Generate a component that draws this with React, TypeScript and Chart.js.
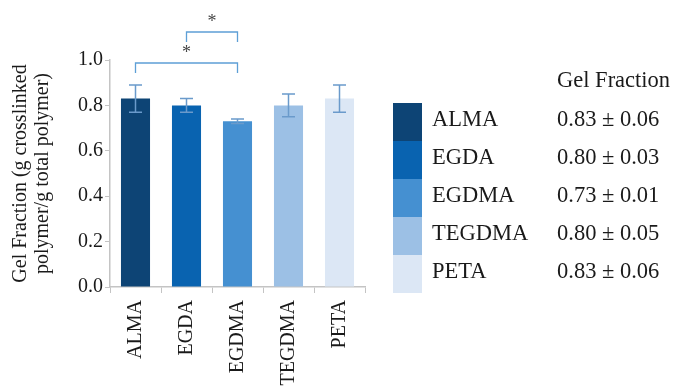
import React, { useEffect, useRef } from "react";
import { Chart, registerables } from "chart.js";

Chart.register(...registerables);

const categories = ["ALMA", "EGDA", "EGDMA", "TEGDMA", "PETA"];
const gelFraction = [0.83, 0.8, 0.73, 0.8, 0.83];
const gelError = [0.06, 0.03, 0.01, 0.05, 0.06];
const barColors = ["#0d4475", "#0963b0", "#4590d1", "#9cc0e5", "#dce7f5"];
const yAxisTitle = ["Gel Fraction (g crosslinked", "polymer/g total polymer)"];
const tableHeader = "Gel Fraction";
// significance pairs: [from index, to index]
const sigFrom = [0, 1];
const sigTo = [2, 2];
const sigLabel = ["*", "*"];

const FONT = "'Liberation Serif', 'Times New Roman', serif";
const TEXT = "#1a1a1a";
const AXIS = "#c4c4c4";

const errorBarPlugin = {
  id: "errorBars",
  afterDatasetsDraw(chart: any) {
    const meta = chart.getDatasetMeta(0);
    const y = chart.scales.y;
    const ctx = chart.ctx;
    ctx.save();
    ctx.strokeStyle = "#6a9acb";
    ctx.lineWidth = 1.5;
    meta.data.forEach((bar: any, i: number) => {
      const x = bar.x;
      const top = y.getPixelForValue(gelFraction[i] + gelError[i]);
      const bot = y.getPixelForValue(gelFraction[i] - gelError[i]);
      ctx.beginPath();
      ctx.moveTo(x, top);
      ctx.lineTo(x, bot);
      ctx.moveTo(x - 6.5, top);
      ctx.lineTo(x + 6.5, top);
      ctx.moveTo(x - 6.5, bot);
      ctx.lineTo(x + 6.5, bot);
      ctx.stroke();
    });
    ctx.restore();
  },
};

const bracketPlugin = {
  id: "brackets",
  afterDraw(chart: any) {
    const meta = chart.getDatasetMeta(0);
    const y = chart.scales.y;
    const ctx = chart.ctx;
    const base = y.getPixelForValue(1.0);
    ctx.save();
    sigFrom.forEach((f, k) => {
      const x1 = meta.data[f].x;
      const x2 = meta.data[sigTo[k]].x;
      const lineY = base + 3 - k * 31;
      ctx.strokeStyle = "#5d9fd6";
      ctx.lineWidth = 1.3;
      ctx.beginPath();
      ctx.moveTo(x1, lineY + 10);
      ctx.lineTo(x1, lineY);
      ctx.lineTo(x2, lineY);
      ctx.lineTo(x2, lineY + 10);
      ctx.stroke();
      ctx.fillStyle = "#444";
      ctx.font = `18px ${FONT}`;
      ctx.textAlign = "center";
      ctx.textBaseline = "middle";
      ctx.fillText(sigLabel[k], (x1 + x2) / 2, lineY - 10);
    });
    ctx.restore();
  },
};

const tablePlugin = {
  id: "valueTable",
  afterDraw(chart: any) {
    const ctx = chart.ctx;
    ctx.save();
    ctx.font = `22.5px ${FONT}`;
    ctx.fillStyle = TEXT;
    ctx.textAlign = "left";
    ctx.textBaseline = "middle";
    ctx.fillText(tableHeader, 557, 81);
    categories.forEach((c, i) => {
      const top = 103 + i * 38;
      ctx.fillStyle = barColors[i];
      ctx.fillRect(393, top, 29, 38);
      ctx.fillStyle = TEXT;
      ctx.fillText(c, 432, top + 17);
      ctx.fillText(
        `${gelFraction[i].toFixed(2)} \u00b1 ${gelError[i].toFixed(2)}`,
        557,
        top + 17
      );
    });
    ctx.restore();
  },
};

export default function App() {
  const ref = useRef<HTMLCanvasElement | null>(null);
  useEffect(() => {
    if (!ref.current) return;
    const chart = new Chart(ref.current, {
      type: "bar",
      data: {
        labels: categories,
        datasets: [
          {
            data: gelFraction,
            backgroundColor: barColors,
            borderWidth: 0,
            barPercentage: 0.57,
            categoryPercentage: 1,
          },
        ],
      },
      options: {
        responsive: false,
        animation: false,
        devicePixelRatio: 1,
        layout: { padding: { top: 60, right: 308, left: 0, bottom: 0 } },
        plugins: {
          legend: { display: false },
          tooltip: { enabled: false },
        },
        scales: {
          x: {
            grid: {
              display: true,
              drawOnChartArea: false,
              drawTicks: true,
              tickLength: 6,
              color: AXIS,
              offset: true,
            },
            border: { display: true, color: AXIS, width: 1.5 },
            ticks: {
              minRotation: 90,
              maxRotation: 90,
              padding: 7,
              color: TEXT,
              font: { family: FONT, size: 20 },
              autoSkip: false,
            },
            afterFit: (scale: any) => {
              scale.height = 104;
            },
          },
          y: {
            min: 0,
            max: 1,
            grid: {
              display: true,
              drawOnChartArea: false,
              drawTicks: true,
              tickLength: 5,
              color: AXIS,
            },
            border: { display: true, color: AXIS, width: 1.5 },
            ticks: {
              stepSize: 0.2,
              padding: 2,
              color: TEXT,
              font: { family: FONT, size: 20 },
              callback: (v: any) => Number(v).toFixed(1),
            },
            title: {
              display: true,
              text: yAxisTitle,
              color: TEXT,
              font: { family: FONT, size: 20, lineHeight: 1.1 },
              padding: { top: 10, bottom: 0 },
            },
            afterFit: (scale: any) => {
              scale.width = 110;
            },
          },
        },
      },
      plugins: [errorBarPlugin, bracketPlugin, tablePlugin],
    });
    return () => chart.destroy();
  }, []);
  return (
    <div style={{ position: "fixed", left: 0, top: 0, width: 673, height: 391, background: "#fff" }}>
      <canvas ref={ref} width={673} height={391} />
    </div>
  );
}
